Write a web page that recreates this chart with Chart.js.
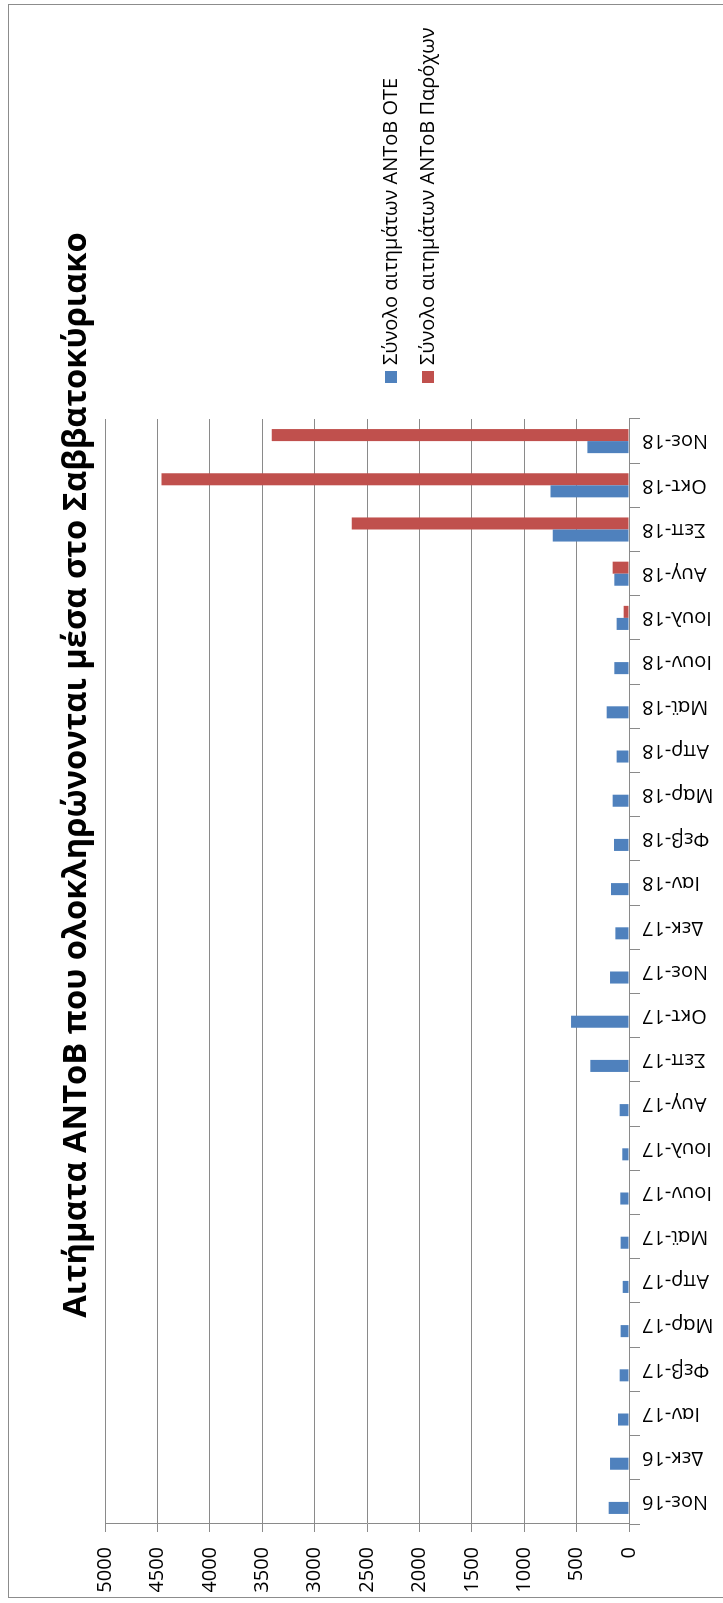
<!DOCTYPE html>
<html lang="el">
<head>
<meta charset="utf-8">
<title>Αιτήματα ΑΝΤοΒ</title>
<script src="https://cdn.jsdelivr.net/npm/chart.js@4.4.1/dist/chart.umd.min.js"></script>
<style>
  html, body { margin: 0; padding: 0; background: #fff; overflow: hidden; width: 723px; height: 1603px; }
  /* The chart is laid out landscape and turned a quarter-turn counter-clockwise */
  #stage {
    position: absolute; left: 0; top: 0;
    width: 1603px; height: 723px;
    transform-origin: 0 0;
    transform: translateY(1603px) rotate(-90deg);
    font-family: "Open Sans", "DejaVu Sans", sans-serif;
  }
  #frame {
    position: absolute; left: 5px; top: 8px; width: 1594px; height: 760px;
    border: 1.5px solid #8c8c8c; box-sizing: border-box;
  }
  #chart { position: absolute; left: 0; top: 0; }
  #title {
    position: absolute; left: 0; width: 1656px; top: 58px;
    text-align: center; font-weight: 700; font-size: 32.7px; line-height: 32px;
    color: #000; white-space: nowrap;
  }
  .item { position: absolute; left: 1220px; height: 20px; white-space: nowrap; }
  .swatch { position: absolute; left: 0; width: 12px; height: 12px; }
  .label { position: absolute; left: 18px; font-size: 20px; line-height: 20px; color: #000; }
</style>
</head>
<body>
<div id="stage">
  <div id="frame"></div>
  <canvas id="chart" width="1603" height="723"></canvas>
  <div id="title"></div>
  <div id="legend"></div>
</div>
<script>
// Months covered
const months = ['Νοε-16','Δεκ-16','Ιαν-17','Φεβ-17','Μαρ-17','Απρ-17','Μαϊ-17','Ιουν-17','Ιουλ-17',
  'Αυγ-17','Σεπ-17','Οκτ-17','Νοε-17','Δεκ-17','Ιαν-18','Φεβ-18','Μαρ-18','Απρ-18','Μαϊ-18',
  'Ιουν-18','Ιουλ-18','Αυγ-18','Σεπ-18','Οκτ-18','Νοε-18'];

// Σύνολο αιτημάτων ΑΝΤοΒ ΟΤΕ
const oteRequests = [194,181,105,89,80,60,80,83,64,89,369,553,181,130,172,143,156,118,213,140,118,140,728,750,397];

// Σύνολο αιτημάτων ΑΝΤοΒ Παρόχων
const providerRequests = [null,null,null,null,null,null,null,null,null,null,null,null,null,null,null,null,
  null,null,null,null,51,156,2645,4460,3408];

const seriesNames = ['Σύνολο αιτημάτων ΑΝΤοΒ ΟΤΕ', 'Σύνολο αιτημάτων ΑΝΤοΒ Παρόχων'];
const seriesColors = ['#4F81BD', '#C0504D'];
const chartTitle = 'Αιτήματα ΑΝΤοΒ που ολοκληρώνονται μέσα στο Σαββατοκύριακο';

const axisMin = 0, axisMax = 5000, axisStep = 500;

const gridGray = '#8a8a8a';
const tickFont = { family: '"Open Sans", "DejaVu Sans", sans-serif', size: 20 };

document.getElementById('title').textContent = chartTitle;

// Legend, stacked on the right
const legend = document.getElementById('legend');
const legendRows = [385, 422];
seriesNames.forEach((name, i) => {
  const item = document.createElement('div');
  item.className = 'item';
  item.style.top = legendRows[i] + 'px';
  const sw = document.createElement('div');
  sw.className = 'swatch';
  sw.style.background = seriesColors[i];
  const lb = document.createElement('div');
  lb.className = 'label';
  lb.style.top = '-5px';
  lb.textContent = name;
  item.appendChild(sw);
  item.appendChild(lb);
  legend.appendChild(item);
});

new Chart(document.getElementById('chart'), {
  type: 'bar',
  data: {
    labels: months,
    datasets: [
      { label: seriesNames[0], data: oteRequests, backgroundColor: seriesColors[0],
        categoryPercentage: 0.545, barPercentage: 1.0 },
      { label: seriesNames[1], data: providerRequests, backgroundColor: seriesColors[1],
        categoryPercentage: 0.545, barPercentage: 1.0 }
    ]
  },
  options: {
    responsive: false,
    animation: false,
    devicePixelRatio: 1,
    layout: { padding: { left: 11, top: 105, right: 419, bottom: 0 } },
    plugins: {
      legend: { display: false },
      title: { display: false },
      tooltip: { enabled: false }
    },
    scales: {
      x: {
        offset: true,
        grid: { offset: true, drawOnChartArea: false, drawTicks: true, tickLength: 11, color: gridGray },
        border: { display: true, color: gridGray, width: 1 },
        ticks: { autoSkip: false, minRotation: 90, maxRotation: 90, padding: 2, color: '#000', font: tickFont },
        afterFit: (scale) => { scale.height = 94; }
      },
      y: {
        min: axisMin,
        max: axisMax,
        grid: { color: gridGray, tickLength: 8, lineWidth: 1 },
        border: { display: true, color: gridGray, width: 1 },
        ticks: { stepSize: axisStep, padding: 15, color: '#000', font: tickFont,
                 callback: (v) => String(v) },
        afterFit: (scale) => { scale.width = 68; }
      }
    }
  }
});
</script>
</body>
</html>
